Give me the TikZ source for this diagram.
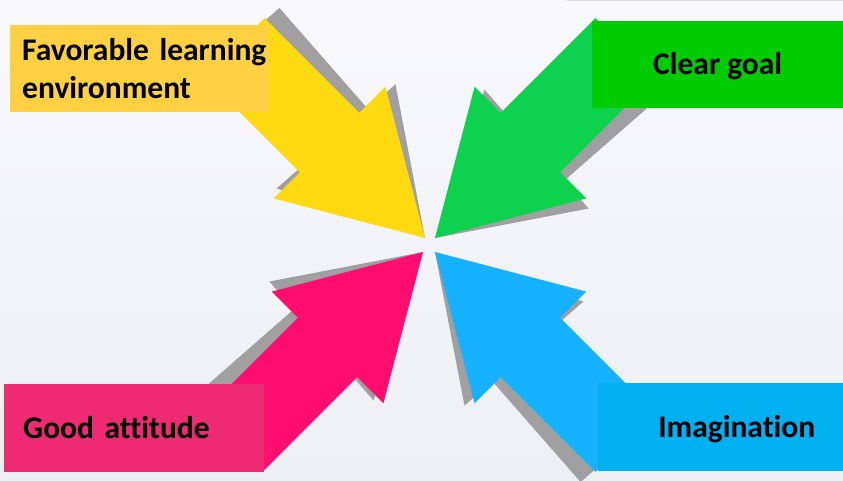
\documentclass[tikz,border=0pt]{standalone}
\usepackage{fontspec}
\setmainfont{Carlito}[Ligatures=NoCommon]

\definecolor{bgtop}{HTML}{F9F9FC}
\definecolor{bgbottom}{HTML}{EDEFF3}
\definecolor{rimline}{HTML}{D9DDE3}
\definecolor{shadowgrey}{HTML}{A0A0A0}
\definecolor{arrowyellow}{HTML}{FFDA10}
\definecolor{arrowgreen}{HTML}{0CD24E}
\definecolor{arrowpink}{HTML}{FF0E6F}
\definecolor{arrowblue}{HTML}{16B1FF}
\definecolor{boxyellow}{HTML}{FFD042}
\definecolor{boxgreen}{HTML}{00CC00}
\definecolor{boxpink}{HTML}{EE2A72}
\definecolor{boxblue}{HTML}{00B0F0}

% A block arrow with its tip at #1, pointing at angle #2, filled with #3;
% its shadow is the same outline turned a little clockwise about the tip.
\newcommand\blockarrow[3]{%
  \begin{scope}[shift={(#1)}, rotate=#2]
    \fill[arrowshadow, rotate=-3.8]
      (0,0) -- (-135,79) -- (-135,42) -- (-269,42)
      -- (-269,-42) -- (-135,-42) -- (-135,-79) -- cycle;
    \fill[#3]
      (0,0) -- (-135,79) -- (-135,42) -- (-269,42)
      -- (-269,-42) -- (-135,-42) -- (-135,-79) -- cycle;
  \end{scope}}

\begin{document}
\begin{tikzpicture}[x=1pt, y=-1pt,
  arrowshadow/.style={fill=shadowgrey},
  labelbox/.style={rectangle, anchor=north west, inner sep=0pt,
    font=\bfseries\fontsize{31.5}{38}\selectfont, text=black},
  oneline/.style={text height=20pt, text depth=0pt}]

  % backdrop
  \useasboundingbox (0,0) rectangle (843,480);
  \shade[top color=bgtop, bottom color=bgbottom, middle color=bgtop!50!bgbottom]
    (0,0) rectangle (843,480);
  \draw[rimline, line width=1pt] (567,0.5) -- (843,0.5);

  % arrow tips around the centre
  \coordinate (ytip) at (425,238);
  \coordinate (gtip) at (435,238);
  \coordinate (ptip) at (423,252);
  \coordinate (btip) at (435,252);

  \blockarrow{ytip}{-45}{arrowyellow}
  \blockarrow{gtip}{-135}{arrowgreen}
  \blockarrow{ptip}{45}{arrowpink}
  \blockarrow{btip}{135}{arrowblue}

  % labels
  \node[labelbox, fill=boxyellow, minimum width=259pt, minimum height=87pt,
        text width=235pt, align=left] (envlabel) at (10,25)
    {\mbox{Favorable learning}\\\mbox{environment}};
  \node[labelbox, oneline, fill=boxgreen, minimum width=251pt, minimum height=87pt]
    (goallabel) at (592,21) {Clear goal};
  \node[labelbox, oneline, fill=boxpink, minimum width=260pt, minimum height=88pt,
        text width=222pt, align=left] (attlabel) at (4,384) {\mbox{Good attitude}};
  \node[labelbox, oneline, fill=boxblue, minimum width=245pt, minimum height=88pt,
        text width=189pt, align=right] (imglabel) at (598,383) {\mbox{Imagination}};
\end{tikzpicture}
\end{document}
